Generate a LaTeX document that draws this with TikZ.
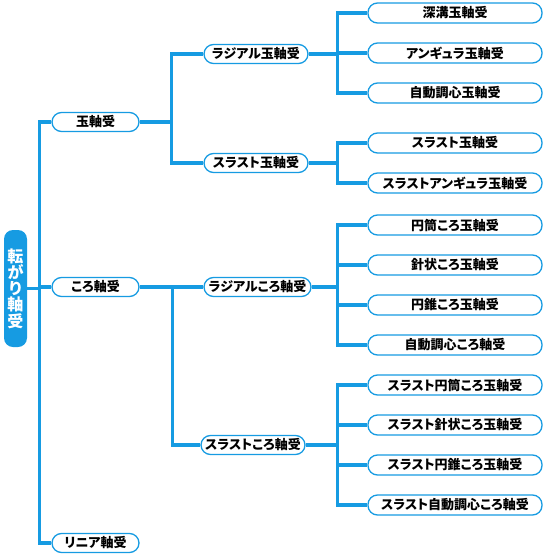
\documentclass[tikz,border=0pt]{standalone}
\usepackage{fontspec}
\newfontfamily\jp[RawFeature=+palt]{Noto Sans CJK JP}
\definecolor{bblue}{RGB}{22,155,226}
\begin{document}
\begin{tikzpicture}[x=1pt,y=-1pt,
  conn/.style={draw=bblue,line width=3.5pt},
  pill/.style={draw=bblue,line width=1.3pt,fill=white,rounded corners=9.5pt,inner sep=0pt,
     font=\jp\bfseries\fontsize{13}{14}\selectfont,text=black},
  lone/.style={pill,minimum width=87pt,minimum height=19pt},
  ltwo/.style={pill,minimum width=104pt,minimum height=19pt},
  lthree/.style={pill,minimum width=174pt,minimum height=20pt},
  rootbox/.style={fill=bblue,rounded corners=9pt,minimum width=23pt,minimum height=117pt,inner sep=0pt,
     text=white,font=\jp\bfseries\fontsize{16}{16.3}\selectfont,align=center}]
\useasboundingbox (0,0) rectangle (548,560);
% root
\node[rootbox] (root) at (15.5,288.5) {転\\が\\り\\軸\\受};
% level 1
\node[lone] (ball) at (95.5,122) {玉軸受};
\node[lone] (roll) at (95.5,287) {ころ軸受};
\node[lone] (lin) at (95.5,543) {リニア軸受};
% level 2
\node[ltwo] (rball) at (256,54) {ラジアル玉軸受};
\node[ltwo] (tball) at (256,163) {スラスト玉軸受};
\node[ltwo,minimum width=107pt] (rroll) at (257.5,287) {ラジアルころ軸受};
\node[ltwo] (troll) at (253,445) {スラストころ軸受};
% level 3
\node[lthree] (a1) at (455,13) {深溝玉軸受};
\node[lthree] (a2) at (455,53) {アンギュラ玉軸受};
\node[lthree] (a3) at (455,93) {自動調心玉軸受};
\node[lthree] (b1) at (455,143) {スラスト玉軸受};
\node[lthree] (b2) at (455,183) {スラストアンギュラ玉軸受};
\node[lthree] (c1) at (455,225) {円筒ころ玉軸受};
\node[lthree] (c2) at (455,265) {針状ころ玉軸受};
\node[lthree] (c3) at (455,305) {円錐ころ玉軸受};
\node[lthree] (c4) at (455,345) {自動調心ころ軸受};
\node[lthree] (d1) at (455,385) {スラスト円筒ころ玉軸受};
\node[lthree] (d2) at (455,425) {スラスト針状ころ玉軸受};
\node[lthree] (d3) at (455,465) {スラスト円錐ころ玉軸受};
\node[lthree] (d4) at (455,505) {スラスト自動調心ころ軸受};
% connectors
\foreach \c in {ball,roll,lin}
  \draw[conn] (root.east) -| ([xshift=-12pt]\c.west) -- (\c.west);
\foreach \c in {rball,tball}
  \draw[conn] (ball.east) -| ([xshift=-32pt]\c.west) -- (\c.west);
\draw[conn] (roll.east) -| ([xshift=-32pt]rroll.west) -- (rroll.west);
\draw[conn] (roll.east) -| ([xshift=-28pt]troll.west) -- (troll.west);
\foreach \c in {a1,a2,a3}
  \draw[conn] (rball.east) -| ([xshift=-30pt]\c.west) -- (\c.west);
\foreach \c in {b1,b2}
  \draw[conn] (tball.east) -| ([xshift=-30pt]\c.west) -- (\c.west);
\foreach \c in {c1,c2,c3,c4}
  \draw[conn] (rroll.east) -| ([xshift=-30pt]\c.west) -- (\c.west);
\foreach \c in {d1,d2,d3,d4}
  \draw[conn] (troll.east) -| ([xshift=-30pt]\c.west) -- (\c.west);
\end{tikzpicture}
\end{document}
